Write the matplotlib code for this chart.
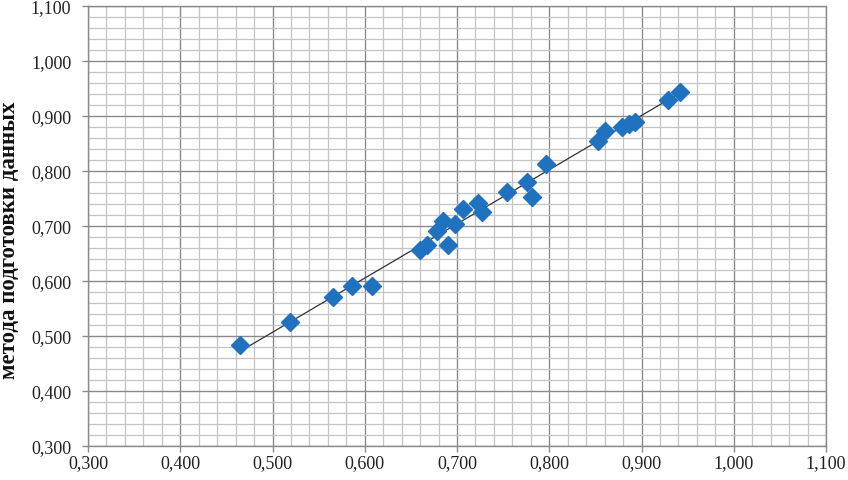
"""Диаграмма рассеяния: значения метода подготовки данных (ромбы + линия тренда)."""
import numpy as np
import matplotlib.pyplot as plt
from matplotlib.ticker import MultipleLocator, FuncFormatter

x_vals = [0.465, 0.519, 0.566, 0.586, 0.608, 0.660, 0.667, 0.678, 0.685, 0.690,
          0.698, 0.707, 0.723, 0.727, 0.754, 0.776, 0.781, 0.796, 0.853, 0.860,
          0.879, 0.886, 0.893, 0.929, 0.942]
y_vals = [0.484, 0.525, 0.571, 0.591, 0.591, 0.656, 0.665, 0.691, 0.709, 0.666,
          0.704, 0.731, 0.742, 0.725, 0.762, 0.780, 0.753, 0.813, 0.854, 0.872,
          0.880, 0.885, 0.889, 0.929, 0.944]
y_label = "метода подготовки данных"

plt.rcParams["font.family"] = ["Liberation Serif", "DejaVu Serif"]

fig = plt.figure(figsize=(8.48, 4.81), dpi=100)
ax = fig.add_axes([88 / 848, 1 - 447 / 481, (826 - 88) / 848, (447 - 7) / 481])

# сетка как в Excel: основные и промежуточные линии
ax.xaxis.set_major_locator(MultipleLocator(0.1))
ax.yaxis.set_major_locator(MultipleLocator(0.1))
ax.xaxis.set_minor_locator(MultipleLocator(0.02))
ax.yaxis.set_minor_locator(MultipleLocator(0.02))
ax.grid(which="major", color="#8a8a8a", linewidth=1.0)
ax.grid(which="minor", color="#c4c4c4", linewidth=0.9)
ax.set_axisbelow(True)

fmt_x = FuncFormatter(lambda v, _: f"{v:.3f}".replace(".", ","))
fmt_y = FuncFormatter(lambda v, _: f"{v:.3f}".replace(".", ","))
ax.xaxis.set_major_formatter(fmt_x)
ax.yaxis.set_major_formatter(fmt_y)
ax.tick_params(which="major", direction="out", length=4, width=1.0, color="#8a8a8a",
               labelsize=13, labelcolor="#222222")
ax.tick_params(axis="y", pad=8)
ax.tick_params(axis="x", pad=2)
ax.tick_params(which="minor", length=0)

for sp in ax.spines.values():
    sp.set_color("#8a8a8a")
    sp.set_linewidth(1.0)

# линия тренда (линейная аппроксимация, как в Excel)
k, b = np.polyfit(x_vals, y_vals, 1)
xl = np.array([min(x_vals), max(x_vals)])
ax.plot(xl, k * xl + b, color="#333333", linewidth=0.9, zorder=2)

ax.plot(x_vals, y_vals, linestyle="none", marker="D", markersize=8.8,
        color="#1f72c0", markeredgecolor="#1f72c0", zorder=3)

ax.set_xlim(0.3, 1.1)
ax.set_ylim(0.3, 1.1)

fig.text(10 / 848, 1 - 240 / 481, y_label, rotation=90, ha="center", va="center",
         fontsize=16.5, fontweight="bold", color="#111111")

fig.savefig("out.png", dpi=100)
